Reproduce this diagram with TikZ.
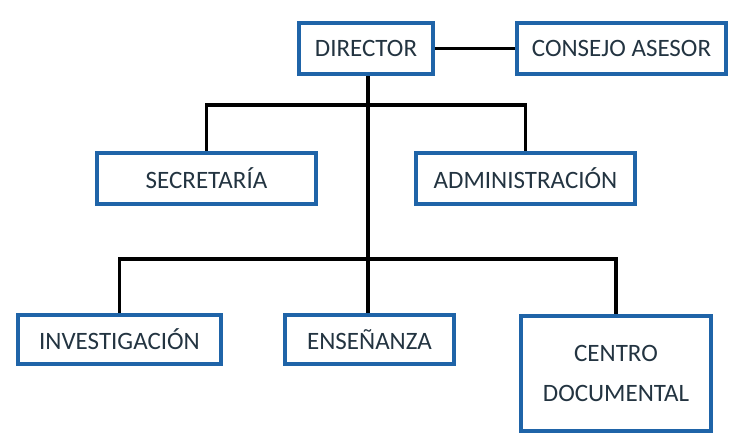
\documentclass[tikz,border=0pt]{standalone}
\usepackage{fontspec}
\setmainfont{Carlito}
\usepackage{xcolor}
\usepackage{tikz}
\usetikzlibrary{positioning, calc}

\definecolor{boxblue}{RGB}{31,100,168}
\definecolor{boxtext}{RGB}{35,52,65}

\begin{document}
\begin{tikzpicture}[x=1pt, y=-1pt,
    unit/.style={rectangle, draw=boxblue, line width=4pt, fill=white, text=boxtext, align=center, inner sep=0pt, minimum height=51pt, font=\fontsize{25}{30}\selectfont},
    link/.style={draw=black, line width=3.6pt}]
        \useasboundingbox (0,0) rectangle (734,433);

        % Top nodes
        \node[unit, minimum width=134pt] (director) at (366,48.5) {DIRECTOR};
        \node[unit, minimum width=209pt] (consejo) at (621.5,48.5) {CONSEJO ASESOR};

        % Middle nodes
        \node[unit, minimum width=219pt] (secretaria) at (206.5,178.5) {SECRETARÍA};
        \node[unit, minimum width=219pt] (administracion) at (525.5,178.5) {ADMINISTRACIÓN};

        % Bottom nodes
        \node[unit, minimum width=203pt, minimum height=49pt] (investigacion) at (119.5,339.5) {INVESTIGACIÓN};
        \node[unit, minimum width=169pt, minimum height=49pt] (ensenanza) at (369.5,339.5) {ENSEÑANZA};
        \node[unit, minimum width=190pt, minimum height=115pt] (centro) at (616,373.5) {CENTRO\\[10pt]DOCUMENTAL};

        % Bus points
        \coordinate (bus1) at (368,105);
        \coordinate (bus2) at (368,259);

        % Connectors
        \draw[link] (director) -- (consejo);
        \draw[link] (director.south -| bus1) -- (bus2);
        \draw[link] (secretaria.north) |- (bus1) -| (administracion.north);
        \draw[link] (investigacion.north) |- (bus2) -| (centro.north);
        \draw[link] (bus2) -- (ensenanza.north -| bus2);
\end{tikzpicture}
\end{document}
